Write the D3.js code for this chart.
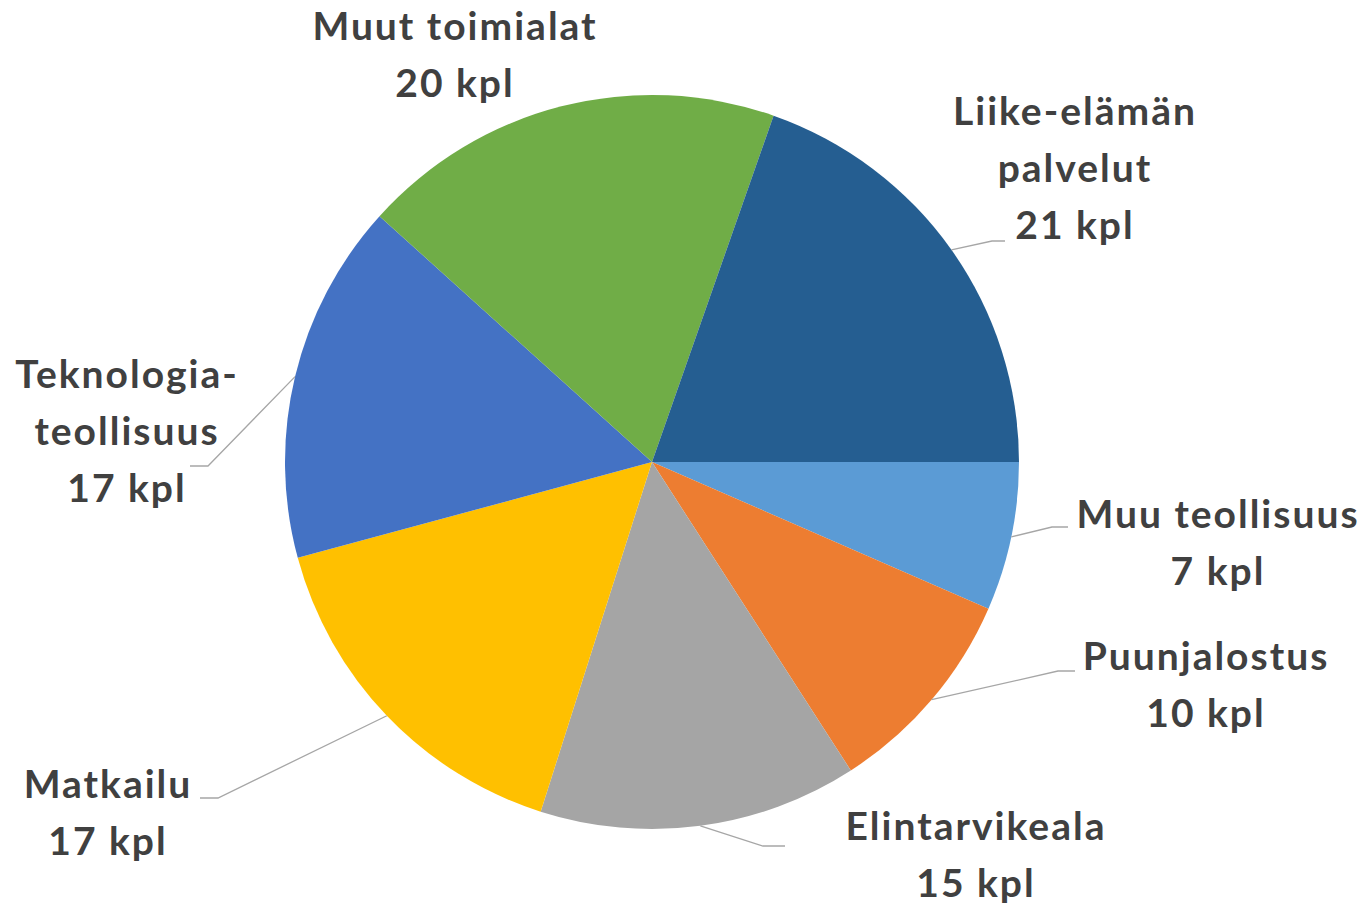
<!doctype html>
<html lang="fi">
<head>
<meta charset="utf-8">
<title>Toimialat</title>
<script src="https://d3js.org/d3.v7.min.js"></script>
<style>
  html, body { margin: 0; padding: 0; background: #fff; }
  svg { display: block; }
  .label { font-family: Lato, "Open Sans", sans-serif; font-weight: 700; fill: #404040; letter-spacing: 2px; }
</style>
</head>
<body>
<div id="chart"></div>
<script>
// data, starting at 3 o'clock and going clockwise
var categories = ["Muu teollisuus", "Puunjalostus", "Elintarvikeala", "Matkailu",
                  "Teknologia-teollisuus", "Muut toimialat", "Liike-elämän palvelut"];
var values = [7, 10, 15, 17, 17, 20, 21];
var unit = "kpl";
// how each category name is broken into lines in its label
var nameLines = [["Muu teollisuus"], ["Puunjalostus"], ["Elintarvikeala"], ["Matkailu"],
                 ["Teknologia-", "teollisuus"], ["Muut toimialat"], ["Liike-elämän", "palvelut"]];
var colors = ["#5B9BD5", "#ED7D31", "#A5A5A5", "#FFC000", "#4472C4", "#70AD47", "#255E91"];

var width = 1365, height = 904;
var cx = 652, cy = 462, r = 367;
var lineH = 57;

// label layout relative to pie centre: text centre x, first baseline y,
// leader elbow x/y and where the short horizontal piece ends (null = no leader)
var labelLayout = [
    { x: 566, y: 66, leader: [400, 65, 416] },
    { x: 554, y: 208, leader: [406, 209, 423] },
    { x: 324, y: 378, leader: [111, 384, 133] },
    { x: -544, y: 336, leader: [-434, 336, -452] },
    { x: -525, y: -74, leader: [-444, 4, -462] },
    { x: -197, y: -422, leader: null },
    { x: 423, y: -337, leader: [340, -221, 353] }
];

var svg = d3.select("#chart").append("svg")
    .attr("width", width)
    .attr("height", height);

var g = svg.append("g")
    .attr("transform", "translate(" + cx + "," + cy + ")");

var pie = d3.pie()
    .sort(null)
    .startAngle(Math.PI / 2)
    .endAngle(Math.PI / 2 + 2 * Math.PI)
    .value(function (d) { return d; });

var arc = d3.arc().innerRadius(0).outerRadius(r);

var arcs = pie(values);

g.selectAll("path.slice")
    .data(arcs)
    .enter()
    .append("path")
    .attr("class", "slice")
    .attr("d", arc)
    .attr("fill", function (d, i) { return colors[i]; });

// leader lines
g.selectAll("polyline.leader")
    .data(arcs.filter(function (d, i) { return labelLayout[i].leader; }))
    .enter()
    .append("polyline")
    .attr("class", "leader")
    .attr("fill", "none")
    .attr("stroke", "#A6A6A6")
    .attr("stroke-width", 1.3)
    .attr("points", function (d) {
        var L = labelLayout[d.index].leader;
        var mid = (d.startAngle + d.endAngle) / 2;
        var p = [r * Math.sin(mid), -r * Math.cos(mid)];
        return [p, [L[0], L[1]], [L[2], L[1]]].map(function (q) { return q.join(","); }).join(" ");
    });

// labels
var labels = g.selectAll("text.label")
    .data(arcs)
    .enter()
    .append("text")
    .attr("class", "label")
    .attr("text-anchor", "middle")
    .attr("font-size", 39)
    .attr("x", function (d) { return labelLayout[d.index].x; })
    .attr("y", function (d) { return labelLayout[d.index].y; });

labels.each(function (d) {
    var lines = nameLines[d.index].concat([d.data + " " + unit]);
    var t = d3.select(this);
    lines.forEach(function (s, k) {
        t.append("tspan")
            .attr("x", labelLayout[d.index].x)
            .attr("dy", k === 0 ? 0 : lineH)
            .text(s);
    });
});
</script>
</body>
</html>
